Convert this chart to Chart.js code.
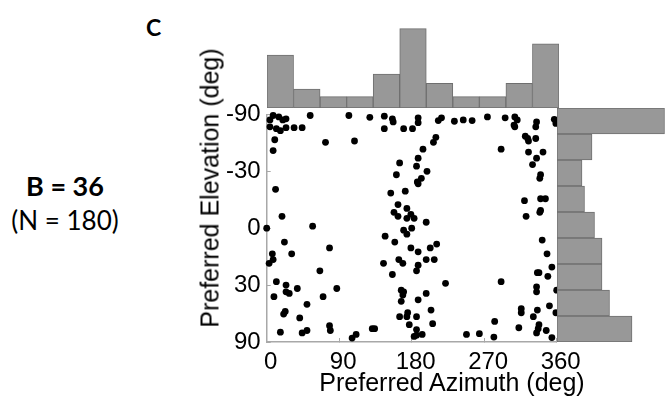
<!DOCTYPE html>
<html>
<head>
<meta charset="utf-8">
<script src="https://cdn.jsdelivr.net/npm/chart.js@4/dist/chart.umd.min.js"></script>
<style>
  body { margin: 0; background: #fff; }
  #wrap { position: relative; width: 666px; height: 399px; overflow: hidden; }
  canvas { position: absolute; }
  .txt { position: absolute; white-space: nowrap; line-height: 1; color: #000; }
  .ttl { font-family: 'Liberation Sans', Arial, sans-serif; font-size: 25px; }
  .lbl { font-family: Lato, 'Open Sans', sans-serif; font-size: 26px; }
</style>
</head>
<body>
<div id="wrap">
  <canvas id="scatter" width="400" height="309" style="left:200px;top:90px"></canvas>
  <canvas id="topHist" width="292" height="88" style="left:267px;top:20px"></canvas>
  <canvas id="sideHist" width="109" height="234" style="left:557px;top:108px"></canvas>

  <div class="txt lbl" style="left:146px;top:16px;font-weight:bold;font-size:23px">C</div>
  <div class="txt lbl" style="left:65px;top:185px;font-weight:bold;font-size:27px;transform:translate(-50%,-50%)">B = 36</div>
  <div class="txt lbl" style="left:65px;top:220px;transform:translate(-50%,-50%)">(N = 180)</div>
  <div class="txt ttl" style="left:452px;top:382px;transform:translate(-50%,-50%)">Preferred Azimuth (deg)</div>
  <div class="txt ttl" style="left:210px;top:188px;transform:translate(-50%,-50%) rotate(-90deg)">Preferred Elevation (deg)</div>
</div>

<script>
// preferred azimuth / elevation of each unit (deg)
const azimuth = [
  4, 8, 15, 20, 24, 4, 12, 17, 24, 34,
  44, 54, 102, 128, 146, 156, 157, 146, 170, 10,
  8, 73, 109, 165, 161, 11, 154, 172, 163, 174,
  158, 163, 174, 19, 0, 57, 170, 181, 188, 188,
  213, 217, 233, 244, 255, 274, 296, 308, 311, 307,
  308, 335, 334, 357, 359, 210, 207, 194, 188, 186,
  199, 192, 187, 188, 179, 183, 198, 180, 291, 321,
  324, 325, 334, 325, 343, 335, 330, 340, 339, 320,
  340, 346, 340, 339, 322, 22, 78, 7, 8, 3,
  31, 66, 12, 24, 24, 28, 38, 87, 9, 70,
  50, 23, 21, 41, 17, 44, 50, 78, 79, 106,
  111, 131, 134, 147, 159, 174, 179, 145, 164, 169,
  156, 167, 170, 169, 167, 175, 174, 165, 177, 188,
  203, 211, 188, 186, 198, 208, 222, 198, 188, 186,
  204, 206, 186, 186, 193, 183, 248, 264, 283, 282,
  291, 342, 348, 354, 336, 338, 349, 335, 335, 360,
  351, 359, 316, 316, 336, 331, 313, 338, 337, 335,
  347, 354
];
const elevation = [
  -72, -82, -78, -72, -74, -63, -61, -59, -62, -62,
  -62, -82, -82, -77, -80, -74, -69, -61, -61, -51,
  -43, -49, -50, -35, -28, -20, -18, -19, -12, -10,
  -8, -6, -5, -6, 0, -1, 1, -61, -76, -68,
  -71, -76, -70, -72, -71, -78, -76, -78, -72, -65,
  -63, -69, -63, -73, -67, -53, -49, -44, -38, -33,
  -30, -26, -24, -23, -7, -5, -3, 0, -44, -54,
  -52, -50, -52, -42, -42, -38, -34, -28, -26, -14,
  -15, -15, -9, -8, -6, 7, 10, 13, 16, 18,
  13, 22, 28, 30, 34, 35, 32, 32, 37, 37,
  42, 47, 49, 52, 66, 67, 64, 59, 64, 75,
  69, 62, 62, 4, 7, 3, 10, 18, 16, 18,
  24, 33, 34, 36, 40, 48, 51, 51, 58, 12,
  10, 8, 19, 22, 16, 16, 29, 35, 39, 51,
  46, 57, 63, 70, 69, 72, 69, 68, 55, 73,
  28, 6, 13, 20, 23, 23, 25, 31, 34, 33,
  43, 48, 45, 48, 46, 51, 61, 58, 62, 67,
  64, 74
];

// marginal histograms (counts)
const azBins = ["0", "33", "65", "98", "131", "164", "196", "229", "262", "295", "327"];
const azCounts = [28, 10, 6, 6, 18, 42, 13, 6, 6, 13, 34];
const elBins = ["-90", "-51", "-39", "-26", "-13", "0", "13", "26", "39"];
const elCounts = [43, 14, 10, 11, 15, 18, 18, 21, 30];

const yTicks = [-90, -30, 0, 30, 90];
const xTicks = [0, 90, 180, 270, 360];

const FONT = "'Liberation Sans', Arial, sans-serif";
const AXIS_GREY = "#a8a8a8";
const BAR_FILL = "#989898";
const BAR_EDGE = "#6f6f6f";

Chart.defaults.font.family = FONT;
Chart.defaults.color = "#000";

function toRad(d) {
    return d * Math.PI / 180;
}

// elevation axis is equal-area: plotted as sin(elevation)
const points = azimuth.map((a, i) => ({ x: a, y: Math.sin(toRad(elevation[i])) }));

new Chart(document.getElementById("scatter"), {
    type: "scatter",
    data: {
        datasets: [{
            data: points,
            pointRadius: 3.4,
            pointBackgroundColor: "#000",
            pointBorderWidth: 0,
            clip: false
        }]
    },
    options: {
        responsive: false,
        animation: false,
        layout: { padding: { left: 0, top: 18, right: 43.3, bottom: 0 } },
        plugins: { legend: { display: false }, tooltip: { enabled: false } },
        scales: {
            x: {
                type: "linear",
                min: 0,
                max: 360,
                afterFit: s => { s.height = 57; },
                afterBuildTicks: s => { s.ticks = xTicks.map(v => ({ value: v })); },
                ticks: { font: { size: 24 }, padding: 10, labelOffset: 4, maxRotation: 0, autoSkip: false },
                grid: { drawOnChartArea: false, color: AXIS_GREY, tickLength: -4 },
                border: { color: AXIS_GREY, width: 1.5 }
            },
            y: {
                type: "linear",
                min: -1,
                max: 1,
                reverse: true,
                afterFit: s => { s.width = 66.7; },
                afterBuildTicks: s => { s.ticks = yTicks.map(v => ({ value: Math.sin(toRad(v)) })); },
                ticks: {
                    font: { size: 24 },
                    padding: 10,
                    autoSkip: false,
                    callback: v => Math.round(Math.asin(v) * 180 / Math.PI)
                },
                grid: { drawOnChartArea: false, color: AXIS_GREY, tickLength: -4 },
                border: { color: AXIS_GREY, width: 1.5 }
            }
        }
    }
});

function histOptions(horizontal, max) {
    const valueAxis = { display: false, min: 0, max: max };
    const catAxis = { display: false };
    return {
        responsive: false,
        animation: false,
        indexAxis: horizontal ? "y" : "x",
        layout: { padding: 0 },
        plugins: { legend: { display: false }, tooltip: { enabled: false } },
        scales: horizontal ? { x: valueAxis, y: catAxis } : { x: catAxis, y: valueAxis }
    };
}

new Chart(document.getElementById("topHist"), {
    type: "bar",
    data: {
        labels: azBins,
        datasets: [{
            data: azCounts,
            backgroundColor: BAR_FILL,
            borderColor: BAR_EDGE,
            borderWidth: 1,
            borderSkipped: false,
            barPercentage: 1,
            categoryPercentage: 1
        }]
    },
    options: histOptions(false, 46.6)
});

new Chart(document.getElementById("sideHist"), {
    type: "bar",
    data: {
        labels: elBins,
        datasets: [{
            data: elCounts,
            backgroundColor: BAR_FILL,
            borderColor: BAR_EDGE,
            borderWidth: 1,
            borderSkipped: false,
            barPercentage: 1,
            categoryPercentage: 1
        }]
    },
    options: histOptions(true, 43.6)
});
</script>
</body>
</html>
